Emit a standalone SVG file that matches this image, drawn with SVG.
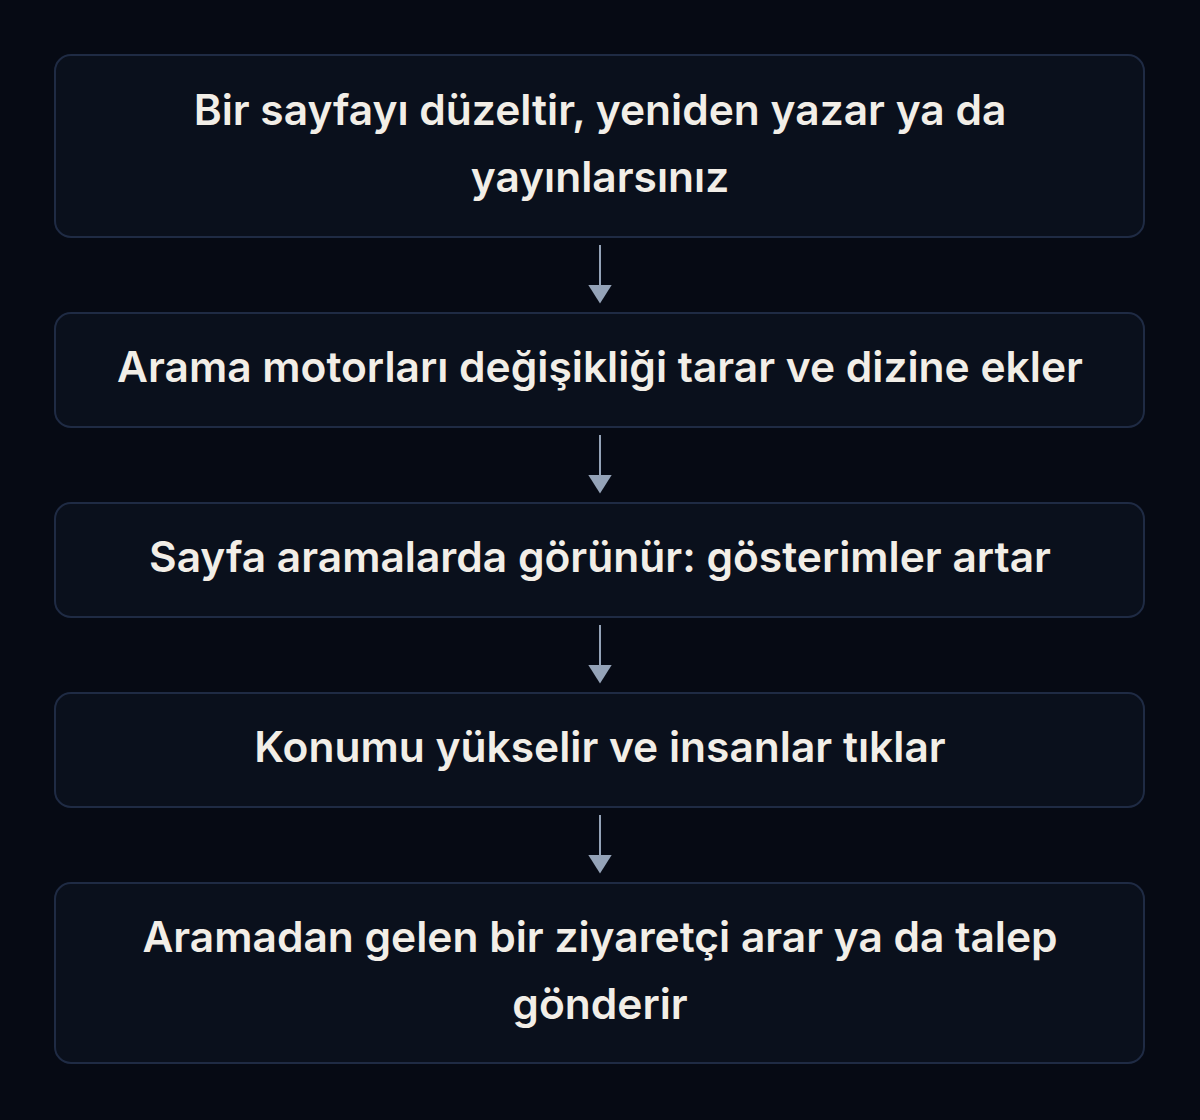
<svg xmlns="http://www.w3.org/2000/svg" width="1200" height="1120" viewBox="0 0 1200 1120">
<defs>
<style>
.box{fill:#0a101c;stroke:#1f2b44;stroke-width:2}
.t{font-family:Inter,"Noto Sans",sans-serif;font-weight:600;font-size:42.5px;fill:#f2eee7;text-anchor:middle}
.c{stroke:#94a3b8;stroke-width:2;fill:none}
</style>
<marker id="ah" viewBox="0 0 19 24" markerWidth="19" markerHeight="24" refX="0.5" refY="12" orient="auto" markerUnits="userSpaceOnUse">
<path d="M0 0 L19 12 L0 24 Z" fill="#94a3b8"/>
</marker>
</defs>
<rect width="1200" height="1120" fill="#060a14"/>
<g id="n1"><rect class="box" x="55" y="55" width="1089" height="182" rx="16"/>
<text class="t" x="600" y="125">Bir sayfayı düzeltir, yeniden yazar ya da</text>
<text class="t" x="600" y="192">yayınlarsınız</text></g>
<g id="n2"><rect class="box" x="55" y="313" width="1089" height="114" rx="16"/>
<text class="t" x="600" y="382">Arama motorları değişikliği tarar ve dizine ekler</text></g>
<g id="n3"><rect class="box" x="55" y="503" width="1089" height="114" rx="16"/>
<text class="t" x="600" y="572">Sayfa aramalarda görünür: gösterimler artar</text></g>
<g id="n4"><rect class="box" x="55" y="693" width="1089" height="114" rx="16"/>
<text class="t" x="600" y="762">Konumu yükselir ve insanlar tıklar</text></g>
<g id="n5"><rect class="box" x="55" y="883" width="1089" height="180" rx="16"/>
<text class="t" x="600" y="952">Aramadan gelen bir ziyaretçi arar ya da talep</text>
<text class="t" x="600" y="1019">gönderir</text></g>
<g id="connectors">
<path class="c" d="M600 245 V285" marker-end="url(#ah)"/>
<path class="c" d="M600 435 V475" marker-end="url(#ah)"/>
<path class="c" d="M600 625 V665" marker-end="url(#ah)"/>
<path class="c" d="M600 815 V855" marker-end="url(#ah)"/>
</g>
</svg>
